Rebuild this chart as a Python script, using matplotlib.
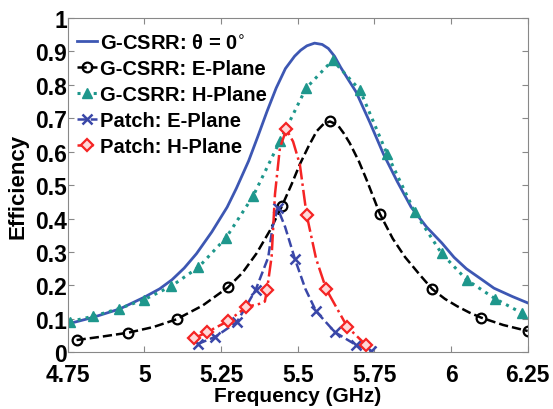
import matplotlib
matplotlib.use("Agg")
import matplotlib.pyplot as plt

plt.rcParams['font.family'] = ['Liberation Sans', 'DejaVu Sans']
plt.rcParams['mathtext.fontset'] = 'dejavusans'

# G-CSRR theta = 0 (solid, no markers)
f_theta0 = [4.75, 4.83, 4.92, 5.00, 5.05, 5.09, 5.13, 5.17, 5.22, 5.27, 5.30, 5.34,
            5.37, 5.40, 5.43, 5.46, 5.49, 5.51, 5.53, 5.555, 5.58, 5.60, 5.62, 5.64,
            5.665, 5.69, 5.735, 5.78, 5.825, 5.87, 5.92, 5.97, 6.01, 6.05, 6.10, 6.14,
            6.20, 6.25]
eff_theta0 = [0.085, 0.104, 0.130, 0.165, 0.190, 0.217, 0.252, 0.295, 0.360, 0.434, 0.490, 0.572,
              0.645, 0.720, 0.790, 0.848, 0.885, 0.903, 0.916, 0.924, 0.920, 0.908, 0.885, 0.852,
              0.815, 0.779, 0.688, 0.592, 0.510, 0.434, 0.375, 0.327, 0.284, 0.250, 0.218, 0.192,
              0.167, 0.148]

# G-CSRR E-plane (dashed black, circles on a subset)
f_e = [4.779, 4.86, 4.948, 5.03, 5.105, 5.19, 5.272, 5.32, 5.366, 5.41, 5.448,
       5.48, 5.507, 5.535, 5.562, 5.585, 5.605, 5.63, 5.65, 5.67, 5.70, 5.725,
       5.768, 5.81, 5.85, 5.90, 5.939, 5.98, 6.02, 6.06, 6.098, 6.17, 6.25]
eff_e = [0.037, 0.047, 0.059, 0.076, 0.099, 0.140, 0.194, 0.238, 0.296, 0.365, 0.436,
         0.502, 0.562, 0.615, 0.661, 0.683, 0.690, 0.680, 0.655, 0.625, 0.570, 0.515,
         0.414, 0.340, 0.285, 0.230, 0.189, 0.160, 0.138, 0.119, 0.104, 0.082, 0.064]
e_marks = [0, 2, 4, 6, 10, 16, 22, 26, 30, 32]

# G-CSRR H-plane (dotted teal, triangles)
f_h = [4.757, 4.833, 4.918, 5.000, 5.088, 5.176, 5.266, 5.354, 5.442, 5.527,
       5.614, 5.703, 5.791, 5.882, 5.969, 6.051, 6.143, 6.230]
eff_h = [0.092, 0.108, 0.131, 0.158, 0.198, 0.254, 0.342, 0.466, 0.631, 0.789,
         0.873, 0.784, 0.594, 0.419, 0.296, 0.217, 0.161, 0.118]

# Patch E-plane (dashed blue, x)
f_pe = [5.174, 5.232, 5.302, 5.363, 5.404, 5.418, 5.435, 5.459, 5.491, 5.525, 5.560,
        5.622, 5.691, 5.740]
eff_pe = [0.025, 0.047, 0.091, 0.187, 0.284, 0.375, 0.430, 0.375, 0.279, 0.190, 0.123,
          0.060, 0.022, 0.004]
pe_marks = [0, 1, 2, 3, 6, 8, 10, 11, 12, 13]

# Patch H-plane (dash-dot red, diamonds)
f_ph = [5.162, 5.203, 5.272, 5.333, 5.375, 5.393, 5.400, 5.415, 5.426, 5.442, 5.463,
        5.485, 5.507, 5.529, 5.560, 5.593, 5.662, 5.722]
eff_ph = [0.042, 0.060, 0.093, 0.136, 0.145, 0.152, 0.187, 0.286, 0.473, 0.611, 0.666,
          0.630, 0.562, 0.412, 0.280, 0.189, 0.076, 0.023]
ph_marks = [0, 1, 2, 3, 6, 10, 13, 15, 16, 17]

xticks = [4.75, 5, 5.25, 5.5, 5.75, 6, 6.25]
xtick_labels = ['4.75', '5', '5.25', '5.5', '5.75', '6', '6.25']
yticks = [0, 0.1, 0.2, 0.3, 0.4, 0.5, 0.6, 0.7, 0.8, 0.9, 1]
ytick_labels = ['0', '0.1', '0.2', '0.3', '0.4', '0.5', '0.6', '0.7', '0.8', '0.9', '1']

fig = plt.figure(figsize=(5.53, 4.10), dpi=100)
ax = fig.add_axes([0.1224, 0.138, 0.8318, 0.8164])

ax.plot(f_theta0, eff_theta0, '-', color='#3d57b3', lw=2.0,
        label='G-CSRR: θ = 0$^{\\circ}$')
ax.plot(f_e, eff_e, '--', color='black', lw=1.8, marker='o', markevery=e_marks,
        ms=7, mfc='none', mew=1.6, label='G-CSRR: E-Plane')
ax.plot(f_h, eff_h, ':', color='#1e978c', lw=2.2, marker='^', ms=7,
        mfc='#1e978c', mew=1.0, label='G-CSRR: H-Plane')
ax.plot(f_pe, eff_pe, '--', color='#3a47a8', lw=1.8, marker='x', markevery=pe_marks,
        ms=7, mew=1.8, label='Patch: E-Plane')
ax.plot(f_ph, eff_ph, '-.', color='#f52424', lw=1.8, marker='D', markevery=ph_marks,
        ms=6.5, mfc='#ffd8d8', mew=1.6, label='Patch: H-Plane')

ax.set_xlim(4.75, 6.25)
ax.set_ylim(0, 1)
ax.set_xticks(xticks)
ax.set_xticklabels(xtick_labels, fontsize=16.5, fontweight='bold')
ax.set_yticks(yticks)
ax.set_yticklabels(ytick_labels, fontsize=16.5, fontweight='bold')
ax.tick_params(direction='in', length=4, top=True, right=True, color='#888888')
ax.tick_params(axis='x', pad=7.5)
ax.tick_params(axis='y', pad=0.5)
for s in ax.spines.values():
    s.set_color('#888888')

ax.set_xlabel('Frequency (GHz)', fontsize=15, fontweight='bold', labelpad=0)
ax.set_ylabel('Efficiency', fontsize=16, fontweight='bold', labelpad=5)

leg = ax.legend(loc='upper left', bbox_to_anchor=(0.003, 0.978), frameon=False,
                handlelength=1.0, handletextpad=0.15, labelspacing=0.345, borderaxespad=0.0,
                prop={'size': 14.5, 'weight': 'bold'})

fig.savefig('out.png', dpi=100)
